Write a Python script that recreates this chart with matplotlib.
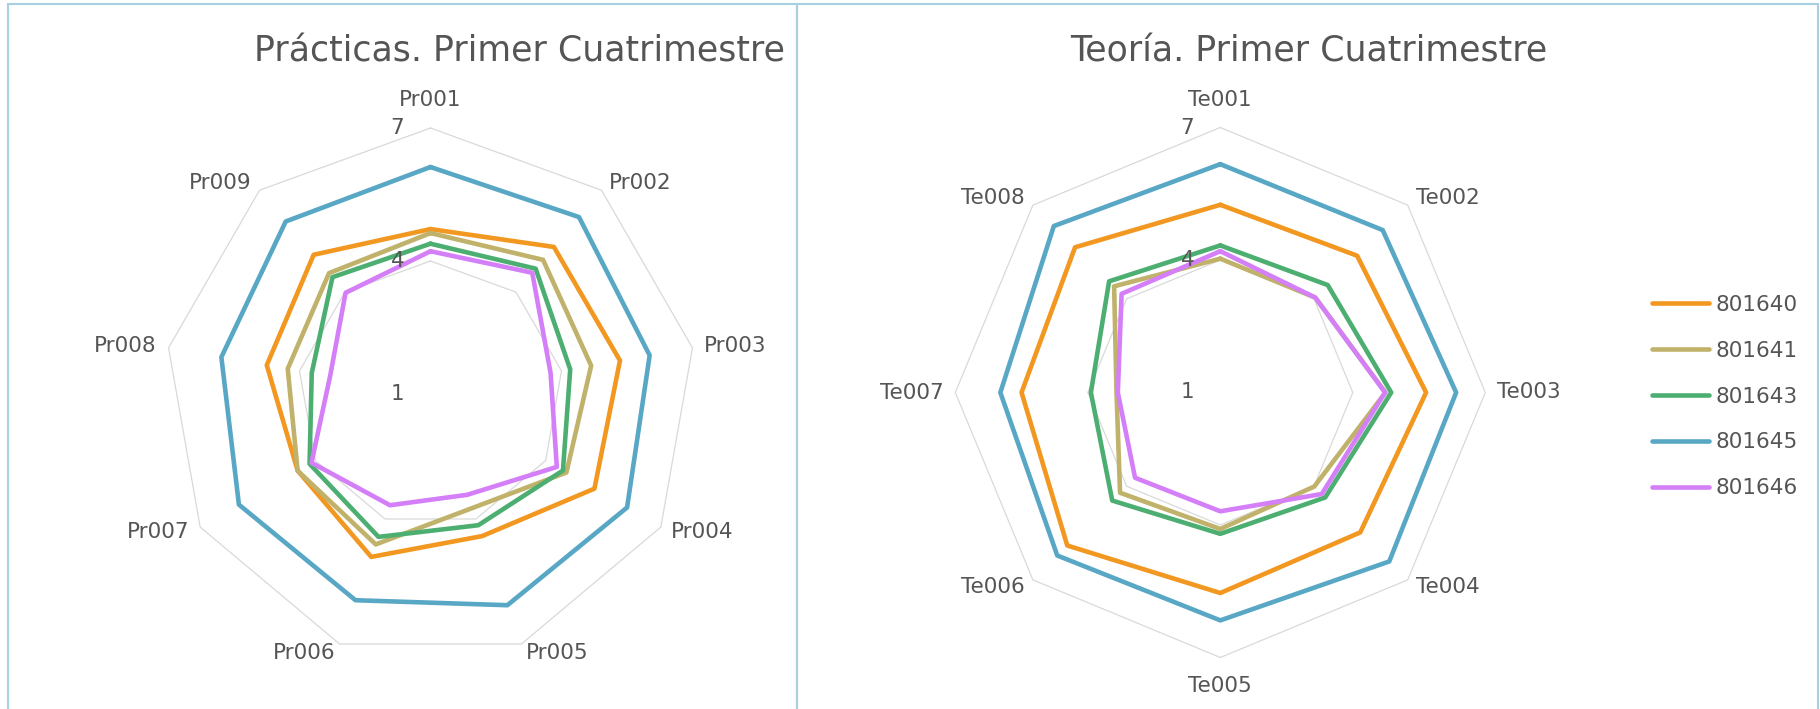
import numpy as np
import matplotlib.pyplot as plt
from matplotlib.patches import Rectangle

W, H = 1820, 709

# series (legend order = drawing order)
series = ['801640', '801641', '801643', '801645', '801646']
colors = ['#F29720', '#C0B26A', '#4DAE71', '#58A7C5', '#D47EF8']

# Prácticas
pr_labels = ['Pr001', 'Pr002', 'Pr003', 'Pr004', 'Pr005', 'Pr006', 'Pr007', 'Pr008', 'Pr009']
pr_801640 = [4.72, 5.33, 5.34, 5.27, 4.41, 4.91, 4.46, 4.75, 5.10]
pr_801641 = [4.63, 4.95, 4.68, 4.54, 3.74, 4.61, 4.46, 4.27, 4.56]
pr_801643 = [4.39, 4.69, 4.20, 4.45, 4.15, 4.43, 4.15, 3.72, 4.44]
pr_801645 = [6.12, 6.21, 6.02, 6.12, 6.07, 5.95, 5.99, 5.79, 6.08]
pr_801646 = [4.22, 4.57, 3.75, 4.29, 3.42, 3.67, 4.10, 3.30, 3.98]

# Teoría
te_labels = ['Te001', 'Te002', 'Te003', 'Te004', 'Te005', 'Te006', 'Te007', 'Te008']
te_801640 = [5.25, 5.38, 5.66, 5.48, 5.54, 5.90, 5.50, 5.65]
te_801641 = [4.03, 4.04, 4.74, 4.01, 4.09, 4.21, 3.35, 4.40]
te_801643 = [4.33, 4.44, 4.87, 4.36, 4.20, 4.46, 3.93, 4.56]
te_801645 = [6.17, 6.20, 6.34, 6.41, 6.16, 6.22, 5.98, 6.33]
te_801646 = [4.20, 4.04, 4.73, 4.25, 3.69, 3.73, 3.32, 4.16]

r_ticks = [1, 4, 7]

TXT = '#555555'
GRID = '#D9D9D9'
LBL_FS = 15.5


def radar(ax, labels, data):
    n = len(labels)
    ang = np.linspace(0, 2 * np.pi, n, endpoint=False)
    ang_c = np.append(ang, ang[0])
    ax.set_theta_zero_location('N')
    ax.set_theta_direction(-1)
    ax.set_ylim(r_ticks[0], r_ticks[-1])
    ax.grid(False)
    ax.spines['polar'].set_visible(False)
    ax.set_xticks([])
    ax.set_yticks([])
    ax.patch.set_alpha(0)

    # polygon gridlines
    for t in r_ticks[1:]:
        ax.plot(ang_c, [t] * (n + 1), color=GRID, lw=0.9, zorder=1, clip_on=False)

    for name, vals, c in zip(series, data, colors):
        v = np.append(vals, vals[0])
        ax.plot(ang_c, v, color=c, lw=3.3, label=name, zorder=3,
                solid_joinstyle='round', solid_capstyle='round', clip_on=False)

    # category labels
    for a, lab in zip(ang, labels):
        s, c = np.sin(a), np.cos(a)
        if abs(s) < 0.1:
            ha, off = 'center', (0, 28 * np.sign(c))
        else:
            ha = 'left' if s > 0 else 'right'
            off = (12 * s, 10 * c)
        ax.annotate(lab, xy=(a, r_ticks[-1]), xytext=off, textcoords='offset pixels',
                    ha=ha, va='center', fontsize=LBL_FS, color=TXT, annotation_clip=False)

    # radial scale labels
    for t in r_ticks:
        ax.annotate(str(t), xy=(0, t), xytext=(-26, 0), textcoords='offset pixels',
                    ha='right', va='center', fontsize=LBL_FS, color=TXT, annotation_clip=False)


fig = plt.figure(figsize=(W / 100, H / 100), dpi=100)

# left radar: center (430.5, 394), R 266
cx, cy, R = 430.5, 394, 266
ax1 = fig.add_axes([(cx - R) / W, (H - cy - R) / H, 2 * R / W, 2 * R / H], projection='polar')
radar(ax1, pr_labels, [pr_801640, pr_801641, pr_801643, pr_801645, pr_801646])

# right radar: center (1220.3, 392.5), R 265
cx, cy, R = 1220.3, 392.5, 265
ax2 = fig.add_axes([(cx - R) / W, (H - cy - R) / H, 2 * R / W, 2 * R / H], projection='polar')
radar(ax2, te_labels, [te_801640, te_801641, te_801643, te_801645, te_801646])

fig.text(519.5 / W, 1 - 61 / H, 'Prácticas. Primer Cuatrimestre', ha='center', va='baseline',
         fontsize=25, color=TXT)
fig.text(1309 / W, 1 - 61 / H, 'Teoría. Primer Cuatrimestre', ha='center', va='baseline',
         fontsize=25, color=TXT)

handles, names = ax2.get_legend_handles_labels()
fig.legend(handles, names, loc='upper left', bbox_to_anchor=(1652 / W, 1 - 295 / H),
           frameon=False, fontsize=LBL_FS, labelcolor=TXT, handlelength=2.65,
           handletextpad=0.28, labelspacing=1.2, borderpad=0, borderaxespad=0)

# panel borders
for x0, x1 in [(8, 797), (797, 1818)]:
    fig.add_artist(Rectangle((x0 / W, -0.02), (x1 - x0) / W, 1.02 - 4 / H,
                             transform=fig.transFigure, fill=False,
                             edgecolor='#A9D0E0', lw=1.5))

fig.savefig('out.png', dpi=100)
